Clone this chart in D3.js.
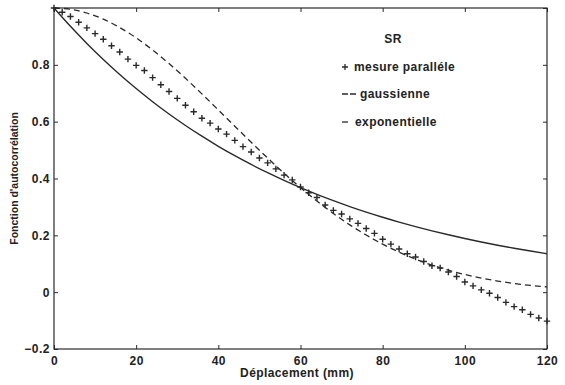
<!DOCTYPE html>
<html>
<head>
<meta charset="utf-8">
<script src="https://cdn.jsdelivr.net/npm/d3@7"></script>
<style>
  html, body { margin: 0; padding: 0; background: #fff; }
  svg { display: block; }
  text { font-family: "Liberation Sans", Arial, Helvetica, sans-serif; fill: #222; }
</style>
</head>
<body>
<svg id="chart" width="565" height="385"></svg>
<script>
// ---- Data ----
const xTicks = [0, 20, 40, 60, 80, 100, 120];
const yTicks = [-0.2, 0, 0.2, 0.4, 0.6, 0.8, 1.0];
const yTickLabels = ["\u22120.2", "0", "0.2", "0.4", "0.6", "0.8", ""];

// measured (parallel) – markers every 2 mm
const mesureX = [0,2,4,6,8,10,12,14,16,18,20,22,24,26,28,30,32,34,36,38,40,42,44,46,48,50,52,54,56,58,60,62,64,66,68,70,72,74,76,78,80,82,84,86,88,90,92,94,96,98,100,102,104,106,108,110,112,114,116,118,120];
const mesureY = [1.0,0.985,0.97,0.95,0.93,0.91,0.89,0.867,0.845,0.82,0.798,0.78,0.755,0.73,0.706,0.682,0.658,0.635,0.612,0.595,0.574,0.556,0.534,0.512,0.493,0.472,0.455,0.434,0.412,0.395,0.37,0.35,0.333,0.307,0.288,0.275,0.258,0.242,0.224,0.207,0.186,0.169,0.152,0.135,0.124,0.108,0.093,0.085,0.071,0.055,0.036,0.022,0.008,-0.004,-0.019,-0.036,-0.051,-0.062,-0.078,-0.091,-0.102];

// model curves – sampled every 4 mm
const modelX = [0,4,8,12,16,20,24,28,32,36,40,44,48,52,56,60,64,68,72,76,80,84,88,92,96,100,104,108,112,116,120];
const gaussY = [1,0.9956,0.9824,0.9608,0.9314,0.8948,0.8521,0.8043,0.7525,0.6977,0.6412,0.5841,0.5273,0.4719,0.4185,0.3679,0.3205,0.2768,0.2369,0.2010,0.1690,0.1409,0.1164,0.0953,0.0773,0.0622,0.0496,0.0392,0.0307,0.0238,0.0183];
const expoY = [1,0.9355,0.8752,0.8187,0.7659,0.7165,0.6703,0.6271,0.5866,0.5488,0.5134,0.4803,0.4493,0.4204,0.3932,0.3679,0.3442,0.3220,0.3012,0.2818,0.2636,0.2466,0.2307,0.2158,0.2019,0.1889,0.1767,0.1653,0.1546,0.1447,0.1353];

const legendTitle = "SR";
const legendLabels = ["mesure paralléle", "gaussienne", "exponentielle"];
const xLabel = "Déplacement (mm)";
const yLabel = "Fonction d'autocorrélation";

// ---- Layout ----
const svg = d3.select("#chart");
const L = 54, R = 547, T = 8, B = 349;
const ink = "#2a2a2a";
const FONT = "'Liberation Sans', Arial, sans-serif";

const x = d3.scaleLinear().domain([0, 120]).range([L, R]);
const y = d3.scaleLinear().domain([-0.2, 1.0]).range([B, T]);

const g = svg.append("g");

// frame
g.append("rect").attr("x", L).attr("y", T).attr("width", R - L).attr("height", B - T)
  .attr("fill", "none").attr("stroke", ink).attr("stroke-width", 1.2);

// axes with inward ticks
const tl = 4;
const xAxisB = d3.axisBottom(x).tickValues(xTicks).tickSize(-tl).tickPadding(7).tickFormat(d3.format("d"));
const xAxisT = d3.axisTop(x).tickValues(xTicks).tickSize(-tl).tickFormat("");
const yAxisL = d3.axisLeft(y).tickValues(yTicks).tickSize(-tl).tickPadding(4).tickFormat((d, i) => yTickLabels[i]);
const yAxisR = d3.axisRight(y).tickValues(yTicks).tickSize(-tl).tickFormat("");

function style(sel) {
  sel.select(".domain").remove();
  sel.selectAll(".tick line").attr("stroke", ink).attr("stroke-width", 1);
  sel.selectAll(".tick text").attr("fill", ink).style("font-size", "12px").style("font-weight", "bold")
    .style("letter-spacing", "0.5px").style("font-family", FONT);
}
g.append("g").attr("transform", `translate(0,${B})`).call(xAxisB).call(style);
g.append("g").attr("transform", `translate(0,${T})`).call(xAxisT).call(style);
g.append("g").attr("transform", `translate(${L},0)`).call(yAxisL).call(style);
g.append("g").attr("transform", `translate(${R},0)`).call(yAxisR).call(style);

// axis labels
svg.append("text").attr("x", 297).attr("y", 377).attr("text-anchor", "middle")
  .style("font-size", "12px").style("font-weight", "bold").style("letter-spacing", "0.4px")
  .attr("fill", ink).text(xLabel);
svg.append("text").attr("transform", `translate(18,${(T + B) / 2}) rotate(-90)`).attr("text-anchor", "middle")
  .style("font-size", "10.5px").style("font-weight", "bold").attr("fill", ink).text(yLabel);

// curves
const line = d3.line().x(d => x(d[0])).y(d => y(d[1])).curve(d3.curveMonotoneX);
const expoData = modelX.map((v, i) => [v, expoY[i]]);
const gaussData = modelX.map((v, i) => [v, gaussY[i]]);

g.append("path").datum(expoData).attr("d", line).attr("fill", "none")
  .attr("stroke", ink).attr("stroke-width", 1.4);
g.append("path").datum(gaussData).attr("d", line).attr("fill", "none")
  .attr("stroke", ink).attr("stroke-width", 1.3).attr("stroke-dasharray", "6,4");

// plus markers
const ms = 3.2;
const mk = g.append("g").attr("stroke", ink).attr("stroke-width", 1.4);
mesureX.forEach((v, i) => {
  const cx = x(v), cy = y(mesureY[i]);
  mk.append("path").attr("d", `M${cx - ms},${cy}H${cx + ms}M${cx},${cy - ms}V${cy + ms}`);
});

// legend
const lg = svg.append("g");
lg.append("text").attr("x", 393).attr("y", 43).attr("text-anchor", "middle")
  .style("font-size", "12px").style("font-weight", "bold").style("letter-spacing", "0.4px")
  .attr("fill", ink).text(legendTitle);
const rows = [71, 98, 126];
lg.append("path").attr("d", `M342,${rows[0] - 4}h6M345,${rows[0] - 7}v6`).attr("stroke", ink).attr("stroke-width", 1.3);
lg.append("path").attr("d", `M342,${rows[1] - 4}h6M350,${rows[1] - 4}h6`).attr("stroke", ink).attr("stroke-width", 1.3);
lg.append("path").attr("d", `M342,${rows[2] - 4}h6`).attr("stroke", ink).attr("stroke-width", 1.3);
const tx = [354, 360, 355];
legendLabels.forEach((t, i) => {
  lg.append("text").attr("x", tx[i]).attr("y", rows[i])
    .style("font-size", "12px").style("font-weight", "bold").style("letter-spacing", "0.4px")
    .attr("fill", ink).text(t);
});
</script>
</body>
</html>
